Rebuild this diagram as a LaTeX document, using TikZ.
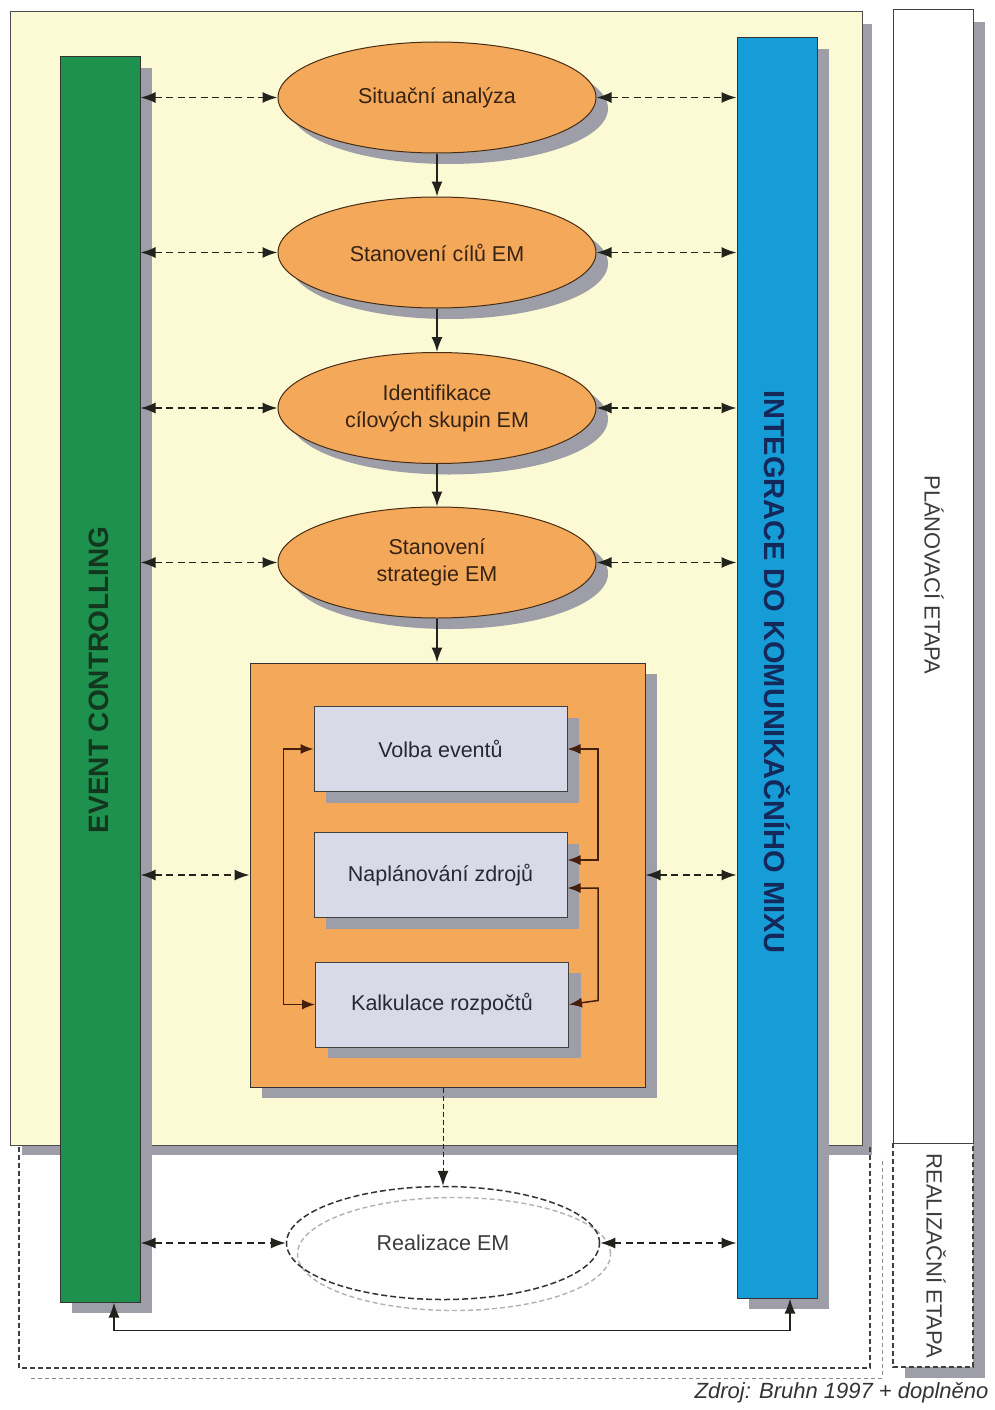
\documentclass[tikz,border=0pt]{standalone}
\usepackage{fontspec}
\setmainfont{Liberation Sans}
\usetikzlibrary{arrows.meta,calc,shapes.geometric,shadows}
\definecolor{ybg}{RGB}{252,250,212}
\definecolor{orng}{RGB}{244,168,90}
\definecolor{grn}{RGB}{30,145,78}
\definecolor{blu}{RGB}{22,156,215}
\definecolor{shgray}{RGB}{158,158,168}
\definecolor{boxfill}{RGB}{216,218,232}
\definecolor{ellborder}{RGB}{70,45,20}
\definecolor{elltext}{RGB}{55,35,20}
\definecolor{boxtext}{RGB}{40,40,55}
\definecolor{arrcol}{RGB}{35,35,30}
\definecolor{loopcol}{RGB}{70,30,12}
\definecolor{gtext}{RGB}{18,55,30}
\definecolor{btext}{RGB}{20,40,90}
\definecolor{etext}{RGB}{60,60,60}
\begin{document}
\begin{tikzpicture}[x=1pt,y=-1pt,
  shd/.style={drop shadow={shadow xshift=12pt, shadow yshift=-11pt, fill=shgray, opacity=1}},
  ell/.style={ellipse, draw=ellborder, fill=orng, line width=1pt, minimum width=318pt,
    minimum height=111pt, inner sep=0pt, font=\fontsize{21.5}{27}\selectfont, text=elltext,
    align=center, shd},
  bar/.style={rectangle, draw=black!80, line width=1pt, minimum width=80pt, inner sep=0pt, shd},
  stepbox/.style={rectangle, draw=black!75, fill=boxfill, line width=1pt, minimum width=253pt,
    minimum height=85pt, inner sep=0pt, font=\fontsize{21.5}{27}\selectfont, text=boxtext, shd},
  tipa/.tip={Latex[length=15pt,width=11pt]},
  tipb/.tip={Latex[length=13pt,width=10pt]},
  dasharr/.style={draw=arrcol, line width=1.6pt, dash pattern=on 7pt off 4.5pt, tipa-tipa},
  solidarr/.style={draw=arrcol, line width=1.5pt, -tipa},
  loopsarr/.style={draw=loopcol, line width=1.5pt, tipb-tipb},
  vlabel/.style={font=\fontsize{22}{26}\selectfont, text=etext}
]
\useasboundingbox (0,0) rectangle (994,1410);
\fill[white] (0,0) rectangle (994,1410);

% yellow planning frame
\fill[shgray] (22,24) rectangle (872,1155);
\draw[fill=ybg, draw=black!70, line width=1pt] (10,12) rectangle (862,1145);

% realisation dashed frame
\draw[black!45, line width=1pt, dash pattern=on 4pt off 3pt] (31,1378) -- (882,1378) -- (882,1158);
\draw[black!75, line width=1.2pt, dash pattern=on 5pt off 3pt] (19,1147) -- (19,1368) -- (870,1368) -- (870,1147);

% right phase column
\fill[shgray] (905,22) rectangle (985,1378);
\fill[white] (893,10) rectangle (973,1367);
\draw[black!75, line width=1pt] (893,10) rectangle (973,1143);
\draw[black!75, line width=1.2pt, dash pattern=on 5pt off 3pt] (893,1143) -- (893,1367) -- (973,1367) -- (973,1143);
\node[vlabel, rotate=-90] (plan) at (934,575) {PLÁNOVACÍ ETAPA};
\node[vlabel, rotate=-90] (real2) at (936,1256) {REALIZAČNÍ ETAPA};

% bars
\node[bar, fill=grn, minimum height=1245pt] (green) at (100,679.5) {};
\node[bar, fill=blu, minimum height=1260pt] (blue) at (777,668) {};
\node[rotate=90, font=\fontsize{28}{32}\selectfont\bfseries, text=gtext] (gl) at (99,680) {EVENT CONTROLLING};
\node[rotate=-90, font=\fontsize{29}{32}\selectfont\bfseries, text=btext] (bl) at (777,672) {INTEGRACE DO KOMUNIKAČNÍHO MIXU};

% ellipses
\node[ell] (e1) at (437,97.5) {Situační analýza};
\node[ell] (e2) at (437,252.5) {Stanovení cílů EM};
\node[ell] (e3) at (437,408) {Identifikace\\cílových skupin EM};
\node[ell] (e4) at (437,562.5) {Stanovení\\strategie EM};

% planning square
\node[rectangle, draw=black!80, fill=orng, line width=1pt, minimum width=395pt,
  minimum height=424pt, inner sep=0pt, shd] (sq) at (447.5,875) {};
\node[stepbox] (volba) at (440.5,749) {Volba eventů};
\node[stepbox] (napl) at (440.5,875) {Naplánování zdrojů};
\node[stepbox] (kalk) at (442,1004.5) {Kalkulace rozpočtů};

% realisation ellipse
\node[ellipse, draw=black!30, line width=1.4pt, dash pattern=on 5pt off 3pt,
  minimum width=313pt, minimum height=113pt] (reals) at (454,1254) {};
\node[ellipse, draw=black!80, line width=1.5pt, dash pattern=on 6pt off 3pt,
  minimum width=313pt, minimum height=113pt, inner sep=0pt,
  font=\fontsize{21.5}{27}\selectfont, text=etext] (real) at (443,1243) {Realizace EM};

% flow arrows
\draw[solidarr] (e1) -- (e2);
\draw[solidarr] (e2) -- (e3);
\draw[solidarr] (e3) -- (e4);
\draw[solidarr] (e4.south) -- (e4.south |- sq.north);
\draw[draw=arrcol, line width=1pt, dash pattern=on 5pt off 3pt, -tipa]
  (real.north |- sq.south) -- (real.north);

% loops inside square
\draw[loopsarr] (volba.west) -- ++(-30,0) |- (kalk.west);
\draw[loopsarr] (volba.east) -- (598,749) |- ($(napl.east)+(0,-15)$);
\draw[loopsarr] (kalk.east) -- (598,1000.5) |- ($(napl.east)+(0,13)$);

% dashed links to bars
\foreach \n in {e1,e2,e3,e4,sq,real}{
  \draw[dasharr] (green.east |- \n.west) -- (\n.west);
  \draw[dasharr] (\n.east) -- (blue.west |- \n.east);
}

% bottom feedback
\draw[draw=arrcol, line width=1.5pt, tipa-tipa]
  ($(green.south)+(14,0)$) -- ++(0,28) -| ($(blue.south)+(13,0)$);

% source
\node[anchor=east, font=\fontsize{22}{26}\selectfont\itshape, text=black!80] (src) at (992,1393) {Zdroj: Bruhn 1997 + doplněno};
\end{tikzpicture}
\end{document}
